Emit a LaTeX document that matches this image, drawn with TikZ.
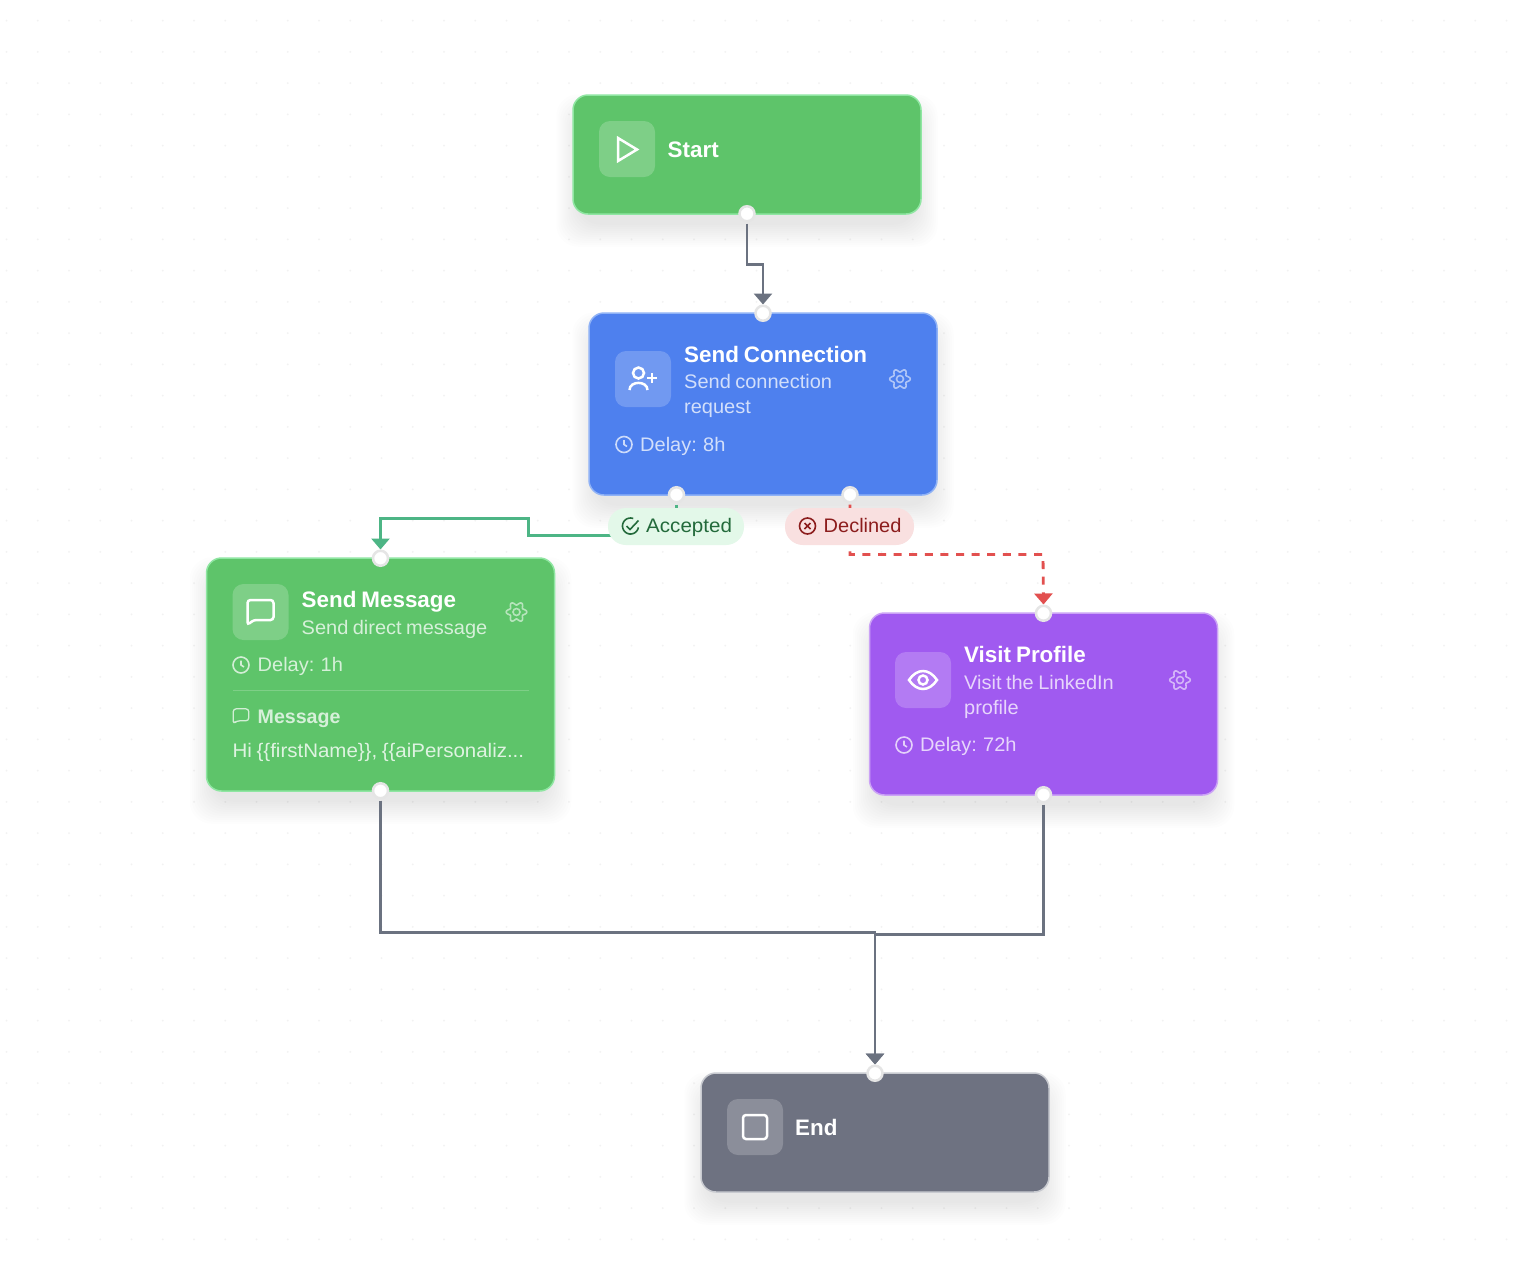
\documentclass[tikz,border=0pt]{standalone}
\usepackage{fontspec}
\setmainfont[FakeStretch=1.02,WordSpace=.8,BoldFeatures={FakeStretch=1.0}]{Liberation Sans}
\usepackage{tikz}
\usetikzlibrary{positioning,arrows.meta,backgrounds}

\definecolor{cardgreen}{HTML}{5EC46A}
\definecolor{cardblue}{HTML}{4E80EE}
\definecolor{cardpurple}{HTML}{A05AF0}
\definecolor{cardgray}{HTML}{6E7281}
\definecolor{edgegreen}{HTML}{8FE6A2}
\definecolor{edgeblue}{HTML}{8FB2F6}
\definecolor{edgepurple}{HTML}{CBA2F6}
\definecolor{edgegray}{HTML}{C8CAD0}
\definecolor{linegray}{HTML}{6B7280}
\definecolor{linegreen}{HTML}{4DB585}
\definecolor{linered}{HTML}{E2504F}
\definecolor{okfill}{HTML}{E3F8E9}
\definecolor{oktext}{HTML}{236A3B}
\definecolor{nofill}{HTML}{F9E0E0}
\definecolor{notext}{HTML}{8C1D1D}

\tikzset{
  card/.style={rectangle,rounded corners=15pt,minimum width=348pt,line width=1.5pt},
  tile/.style={rectangle,rounded corners=11pt,minimum size=56pt,fill=white,fill opacity=.2,inner sep=0pt},
  handle/.style={circle,draw=gray!20,line width=2.5pt,fill=white,minimum size=15pt,inner sep=0pt},
  badge/.style={rectangle,rounded corners=18pt,minimum height=37pt,inner sep=0pt},
  title/.style={anchor=base west,inner sep=0pt,text=white,font=\fontsize{22.4}{25}\selectfont\bfseries},
  sub/.style={anchor=base west,inner sep=0pt,text=white,text opacity=.75,font=\fontsize{19.6}{25}\selectfont},
  link/.style={line width=2.8pt,-{Triangle[width=18pt,length=11pt]},shorten <=1pt},
  griddot/.style={fill=black!5},
  pics/clock/.style={code={
    \draw[pic actions] (0,0) circle (8pt);
    \draw[pic actions] (0,-4.5) -- (0,0) -- (3,2);
  }},
  pics/gear/.style={code={
    \draw[pic actions] plot[domain=0:360,samples=61,smooth cycle] ({(8.6+1.7*cos(6*\x))*cos(\x)},{(8.6+1.7*cos(6*\x))*sin(\x)});
    \draw[pic actions] (0,0) circle (3.5pt);
  }},
  pics/bubble/.style={code={
    \draw[pic actions,rounded corners=3pt] (-13,13) -- (-13,-12) -- (13,-12) -- (13,8) -- (-7,8) -- (-13,13) -- cycle;
  }}
}

\begin{document}
\begin{tikzpicture}[x=1pt,y=-1pt,node distance=100pt,on grid]
  \useasboundingbox (0,0) rectangle (1526,1262);
  \begin{pgfonlayer}{background}
    \fill[white] (0,0) rectangle (1526,1262);
    \foreach \i in {0,...,48}
      \foreach \j in {0,...,40}
        \fill[griddot] (6.5+31.25*\i,20.7+31.25*\j) circle (1pt);
  \end{pgfonlayer}

  % cards
  \node[card,minimum height=119pt,fill=cardgreen,draw=edgegreen] (start) at (747,154.5) {};
  \node[card,minimum height=182pt,fill=cardblue,draw=edgeblue] (conn) [below right = 249.5pt and 16pt of start] {};
  \node[card,minimum height=233pt,fill=cardgreen,draw=edgegreen] (msg) [below left = 270.5pt and 382.5pt of conn] {};
  \node[card,minimum height=182pt,fill=cardpurple,draw=edgepurple] (visit) [below right = 300pt and 280.5pt of conn] {};
  \node[card,minimum height=119pt,fill=cardgray,draw=edgegray] (finish) [below left = 428.5pt and 168.5pt of visit] {};

  % soft shadows
  \begin{pgfonlayer}{background}
    \foreach \n in {start,conn,msg,visit,finish}
      \foreach \e in {-6,-4,...,16}
        \fill[black,opacity=.006,rounded corners=22pt]
          ([shift={(-\e,16+\e)}]\n.south west) rectangle ([shift={(\e,16-\e)}]\n.north east);
  \end{pgfonlayer}

  % handles
  \node[handle] (hstartout) at ([yshift=1pt]start.south) {};
  \node[handle] (hconnin) at ([yshift=-1pt]conn.north) {};
  \node[handle] (haccout) at ([xshift=-86.5pt,yshift=1pt]conn.south) {};
  \node[handle] (hdecout) at ([xshift=87pt,yshift=1pt]conn.south) {};
  \node[handle] (hmsgin) at ([yshift=-1pt]msg.north) {};
  \node[handle] (hmsgout) at ([yshift=1pt]msg.south) {};
  \node[handle] (hvisin) at ([yshift=-1pt]visit.north) {};
  \node[handle] (hvisout) at ([yshift=1pt]visit.south) {};
  \node[handle] (hfinin) at ([yshift=-1pt]finish.north) {};

  % connectors
  \begin{pgfonlayer}{background}
  \draw[link,linegray] (hstartout.south) -- ++(0,42) -| (hconnin.north);
  \draw[link,linegreen] (haccout.south) |- ++(-148,32) |- ++(-148,-17) -- (hmsgin.north);
  \draw[link,linered,dash pattern=on 8pt off 7.6pt] (hdecout.south) |- ++(193,51) -- (hvisin.north);
  \draw[link,linegray] (hmsgout.south) |- ++(494.5,133) -- (hfinin.north);
  \draw[link,linegray] (hvisout.south) |- ++(-168.5,131) -- (hfinin.north);
  \end{pgfonlayer}

  % badges
  \node[badge,fill=okfill,minimum width=136pt] (acc) at (676,526.5) {};
  \node[badge,fill=nofill,minimum width=129pt] (dec) at (849.5,526.5) {};
  \node[anchor=base west,inner sep=0pt,text=oktext,font=\fontsize{19.6}{25}\selectfont\addfontfeature{FakeStretch=1.05}] (tacc) at (646,532) {Accepted};
  \node[anchor=base west,inner sep=0pt,text=notext,font=\fontsize{19.6}{25}\selectfont] (tdec) at (823.5,532) {Declined};
  \draw[oktext,line width=1.6pt] plot[domain=10:290,samples=30,smooth] ({630.5+8*cos(\x)},{526+8*sin(\x)});
  \draw[oktext,line width=1.6pt] (626.5,526) -- (630,529.5) -- (638.5,520.5);
  \draw[notext,line width=1.6pt] (807.5,526) circle (8pt);
  \draw[notext,line width=1.6pt] (804.5,523) -- (810.5,529) (810.5,523) -- (804.5,529);

  % start
  \node[tile] (tistart) at (627,149) {};
  \draw[white,line width=2.5pt] (618,138) -- (618,161) -- (637,149.5) -- cycle;
  \node[title] (lstart) at (667.5,157) {Start};

  % send connection
  \node[tile] (ticonn) at (643,379) {};
  \draw[white,line width=2.5pt] (638.5,373) circle (5.5pt);
  \draw[white,line width=2.5pt] (629.5,390) .. controls (629.5,380.5) and (647.5,380.5) .. (647.5,390);
  \draw[white,line width=2.5pt] (647,378) -- (657,378) (652,373) -- (652,383);
  \node[title] (lconn) at (684,362) {Send Connection};
  \node[sub] (sconn) at (684,388) {Send connection};
  \node[sub] (sconnb) at (684,413) {request};
  \pic[draw=white,draw opacity=.72,line width=1.6pt] at (624,444.5) {clock};
  \node[sub] (dconn) at (640,451) {Delay: 8h};
  \pic[draw=white,draw opacity=.55,line width=1.6pt] at (900,379) {gear};

  % send message
  \node[tile] (timsg) at (260.5,612) {};
  \pic[draw=white,line width=2.5pt] at (260.5,612) {bubble};
  \node[title] (lmsg) at (301.5,607) {Send Message};
  \node[sub] (smsg) at (301.5,634) {Send direct message};
  \pic[draw=white,draw opacity=.72,line width=1.6pt] at (241,665) {clock};
  \node[sub] (dmsg) at (257.5,671) {Delay: 1h};
  \pic[draw=white,draw opacity=.55,line width=1.6pt] at (516.5,612) {gear};
  \draw[white,opacity=.2,line width=1.2pt] (233,690.5) -- (529,690.5);
  \pic[draw=white,draw opacity=.72,line width=1.3pt,scale=.6] at (241,716) {bubble};
  \node[sub,font=\fontsize{19.6}{25}\selectfont\bfseries] (nmsg) at (257.5,723) {Message};
  \node[sub,text opacity=.8,font=\fontsize{19.6}{25}\selectfont\addfontfeature{FakeStretch=1.045}] (hmsg) at (232.5,757) {Hi \{\{firstName\}\}, \{\{aiPersonaliz...};

  % visit profile
  \node[tile] (tivisit) at (923,680) {};
  \draw[white,line width=2.5pt] (909,680) .. controls (917,668) and (929,668) .. (937,680) .. controls (929,692) and (917,692) .. (909,680) -- cycle;
  \draw[white,line width=2.5pt] (923,680) circle (4.5pt);
  \node[title] (lvisit) at (964,662) {Visit Profile};
  \node[sub] (svisit) at (964,689) {Visit the LinkedIn};
  \node[sub] (svisitb) at (964,714) {profile};
  \pic[draw=white,draw opacity=.72,line width=1.6pt] at (904,745) {clock};
  \node[sub] (dvisit) at (920,751) {Delay: 72h};
  \pic[draw=white,draw opacity=.55,line width=1.6pt] at (1180,680) {gear};

  % end
  \node[tile] (tifinish) at (755,1127) {};
  \draw[white,line width=2.5pt,rounded corners=3pt] (743,1115) rectangle (767,1139);
  \node[title] (lfinish) at (795,1135) {End};
\end{tikzpicture}
\end{document}
